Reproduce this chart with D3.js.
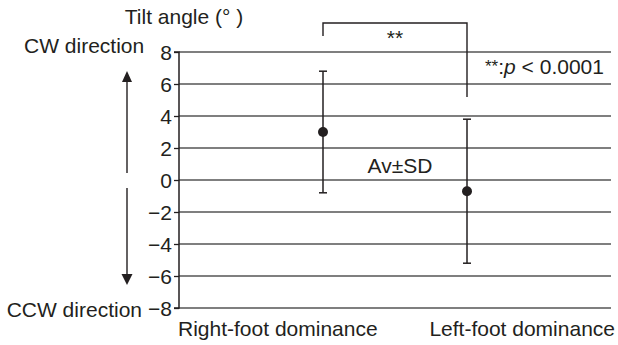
<!DOCTYPE html>
<html><head><meta charset="utf-8">
<script src="https://cdn.jsdelivr.net/npm/d3@7"></script>
<style>
body{margin:0;background:#fff}
svg text{font-family:"Liberation Sans",Arial,Helvetica,sans-serif;fill:#231f20;font-size:21px}
</style>
</head><body>
<svg id="c" width="618" height="345"></svg>
<script>
// ---- data ----
const categories = ["Right-foot dominance", "Left-foot dominance"];
const means = [3.0, -0.7];
const upper = [6.8, 3.8];
const lower = [-0.8, -5.2];
const yTicks = [-8, -6, -4, -2, 0, 2, 4, 6, 8];

// ---- layout ----
const L = 179, R = 611, T = 52, B = 308;
const svg = d3.select("#c");
const x = d3.scalePoint().domain(categories).range([L, R]).padding(1);
const y = d3.scaleLinear().domain([-8, 8]).range([B, T]);

// gridlines
svg.append("g").selectAll("line").data(yTicks).join("line")
  .attr("x1", L).attr("x2", R)
  .attr("y1", d => y(d)).attr("y2", d => y(d))
  .attr("stroke", "#555").attr("stroke-width", 1.5);

// y axis
const ax = svg.append("g").attr("transform", `translate(${L},0)`)
  .call(d3.axisLeft(y).tickValues(yTicks).tickSize(5).tickPadding(2)
    .tickFormat(d => d < 0 ? "\u2212" + Math.abs(d) : String(d)));
ax.select(".domain").attr("stroke", "#231f20").attr("stroke-width", 1.5).attr("d", `M-5,${B}H0V${T}H-5`);
ax.selectAll(".tick line").attr("stroke", "#231f20").attr("stroke-width", 1.3);
ax.selectAll(".tick text").attr("font-size", "21px").attr("font-family", null).attr("fill", "#231f20").attr("dy", "0.36em");

// error bars
const eb = svg.append("g").selectAll("g").data(categories).join("g");
eb.append("line")
  .attr("x1", d => x(d)).attr("x2", d => x(d))
  .attr("y1", (d, i) => y(upper[i])).attr("y2", (d, i) => y(lower[i]))
  .attr("stroke", "#231f20").attr("stroke-width", 1.5);
eb.append("line")
  .attr("x1", d => x(d) - 4).attr("x2", d => x(d) + 4)
  .attr("y1", (d, i) => y(upper[i])).attr("y2", (d, i) => y(upper[i]))
  .attr("stroke", "#231f20").attr("stroke-width", 1.5);
eb.append("line")
  .attr("x1", d => x(d) - 4).attr("x2", d => x(d) + 4)
  .attr("y1", (d, i) => y(lower[i])).attr("y2", (d, i) => y(lower[i]))
  .attr("stroke", "#231f20").attr("stroke-width", 1.5);
eb.append("circle")
  .attr("cx", d => x(d)).attr("cy", (d, i) => y(means[i])).attr("r", 5)
  .attr("fill", "#231f20");

// category labels
svg.append("text").attr("x", 178).attr("y", 336).text(categories[0]);
svg.append("text").attr("x", 615).attr("y", 336).attr("text-anchor", "end").text(categories[1]);

// axis titles
svg.append("text").attr("x", 184).attr("y", 24).attr("text-anchor", "middle").text("Tilt angle (\u00B0 )");
svg.append("text").attr("x", 24).attr("y", 53).text("CW direction");
svg.append("text").attr("x", 142).attr("y", 317).attr("text-anchor", "end").text("CCW direction");

// arrows
const ax0 = 127;
svg.append("line").attr("x1", ax0).attr("x2", ax0).attr("y1", 80).attr("y2", 173).attr("stroke", "#231f20").attr("stroke-width", 1.4);
svg.append("path").attr("d", `M${ax0},71L${ax0 - 5},82L${ax0 + 5},82Z`).attr("fill", "#231f20");
svg.append("line").attr("x1", ax0).attr("x2", ax0).attr("y1", 188).attr("y2", 277).attr("stroke", "#231f20").attr("stroke-width", 1.4);
svg.append("path").attr("d", `M${ax0},285L${ax0 - 5.5},274L${ax0 + 5.5},274Z`).attr("fill", "#231f20");

// significance bracket
const bx0 = x(categories[0]), bx1 = x(categories[1]);
svg.append("path")
  .attr("d", `M${bx0},36V23H${bx1}V97`)
  .attr("fill", "none").attr("stroke", "#231f20").attr("stroke-width", 1.4);
svg.append("text").attr("x", (bx0 + bx1) / 2).attr("y", 45).attr("text-anchor", "middle").text("**");

// p-value note
const pt = svg.append("text").attr("x", 485).attr("y", 74);
pt.append("tspan").attr("font-size", "17px").attr("dy", -2).text("**");
pt.append("tspan").attr("dy", 2).text(":");
pt.append("tspan").attr("font-style", "italic").text("p");
pt.append("tspan").text(" < 0.0001");

// Av±SD
svg.append("text").attr("x", 400).attr("y", 173).attr("text-anchor", "middle").text("Av\u00B1SD");
</script>
</body></html>
